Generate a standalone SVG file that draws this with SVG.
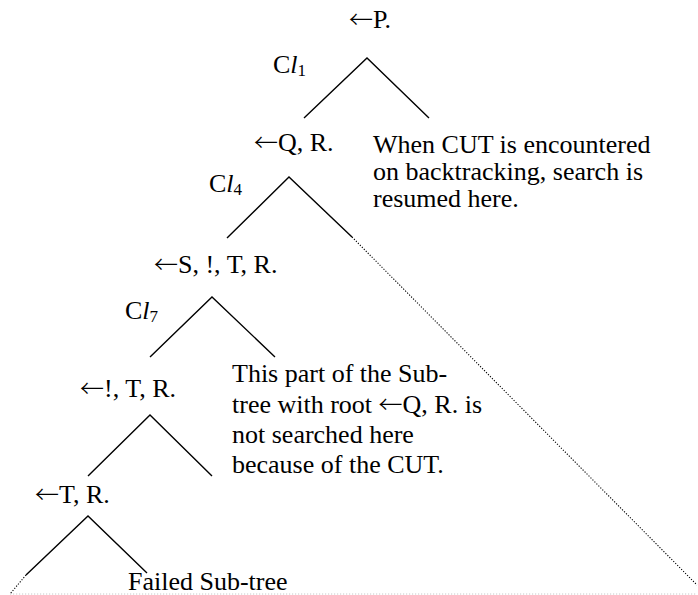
<svg xmlns="http://www.w3.org/2000/svg" width="698" height="595" viewBox="0 0 698 595">
  <style>
    text { font-family: "Liberation Serif", "Times New Roman", serif; font-size: 26px; fill: #000; }
    .arr { font-family: "Noto Sans CJK SC", "DejaVu Serif", sans-serif; font-size: 24px; font-weight: 300; }
    .sub { font-size: 17px; }
    .edge { stroke: #000; stroke-width: 1.4; fill: none; stroke-linecap: butt; }
    .pruned { stroke: #000; stroke-width: 1.1; fill: none; stroke-dasharray: 1.2 1.6; }
    .base { stroke: #c8c8c8; stroke-width: 1; fill: none; stroke-dasharray: 1.2 1.8; }
  </style>
  <rect width="698" height="595" fill="#fff"/>

  <!-- tree edges -->
  <g id="connectors">
    <path class="edge" d="M304,118 L367,58 L429,118"/>
    <path class="edge" d="M227,238 L289,177 L352,237"/>
    <path class="edge" d="M150,357 L212,297 L275,357"/>
    <path class="edge" d="M88,476 L150,415 L212,476"/>
    <path class="edge" d="M26,575 L88,516 L147,573"/>
    <!-- outline of the sub-tree skipped by the cut -->
    <path class="pruned" d="M352,237 L697,585"/>
    <path class="pruned" d="M26,575 L10,594"/>
    <path class="base" d="M10,594 L697,594"/>
  </g>

  <!-- goal nodes -->
  <g id="goal-p"><text x="349" y="28"><tspan class="arr">←</tspan>P.</text></g>
  <g id="goal-qr"><text x="254" y="151"><tspan class="arr">←</tspan>Q, R.</text></g>
  <g id="goal-s-cut-t-r"><text x="154" y="273"><tspan class="arr">←</tspan>S, !, T, R.</text></g>
  <g id="goal-cut-t-r"><text x="80" y="397"><tspan class="arr">←</tspan>!, T, R.</text></g>
  <g id="goal-tr"><text x="35" y="503"><tspan class="arr">←</tspan>T, R.</text></g>

  <!-- clause labels -->
  <g id="clause-1"><text x="273" y="73">C<tspan font-style="italic">l</tspan><tspan class="sub" dy="3">1</tspan></text></g>
  <g id="clause-4"><text x="209" y="192">C<tspan font-style="italic">l</tspan><tspan class="sub" dy="3">4</tspan></text></g>
  <g id="clause-7"><text x="125" y="319">C<tspan font-style="italic">l</tspan><tspan class="sub" dy="3">7</tspan></text></g>

  <!-- notes -->
  <g id="note-resume">
    <text x="373" y="153">When CUT is encountered</text>
    <text x="373" y="180">on backtracking, search is</text>
    <text x="373" y="207">resumed here.</text>
  </g>
  <g id="note-skipped">
    <text x="232" y="382">This part of the Sub-</text>
    <text x="232" y="413">tree with root <tspan class="arr">←</tspan>Q, R. is</text>
    <text x="232" y="443">not searched here</text>
    <text x="232" y="473">because of the CUT.</text>
  </g>
  <g id="note-failed"><text x="128" y="590">Failed Sub-tree</text></g>
</svg>
